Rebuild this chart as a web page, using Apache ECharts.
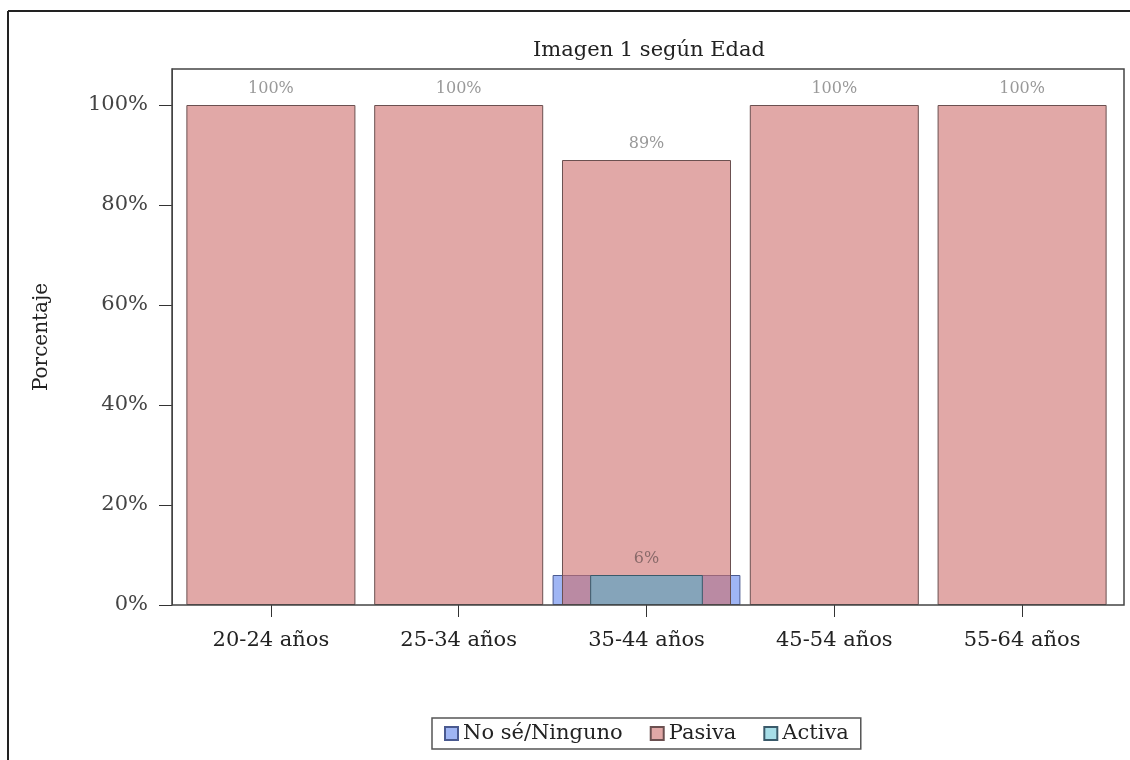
<!DOCTYPE html>
<html><head><meta charset="utf-8">
<script src="https://cdn.jsdelivr.net/npm/echarts@6/dist/echarts.min.js"></script>
<style>html,body{margin:0;padding:0;background:#fff}#c{width:1130px;height:760px}</style>
</head><body><div id="c"></div>
<script>
const categories = ['20-24 años','25-34 años','35-44 años','45-54 años','55-64 años'];
const noSe = ['-','-',6,'-','-'];
const pasiva = [100,100,89,100,100];
const activa = ['-','-',6,'-','-'];
const yTicks = [0,20,40,60,80,100];

const FONT = 'DejaVu Serif';
const chart = echarts.init(document.getElementById('c'), null, {renderer:'canvas'});
const hiddenX = i => ({type:'category', data:categories, gridIndex:0, show:false});
chart.setOption({
  animation:false,
  backgroundColor:'#fff',
  textStyle:{fontFamily:FONT},
  title:{text:'Imagen 1 según Edad', left:644, textAlign:'center', top:35,
    textStyle:{fontFamily:FONT, fontSize:21, fontWeight:'normal', color:'#222'}},
  grid:{left:177, right:14, top:69, bottom:155, containLabel:false},
  legend:{left:432, top:718, orient:'horizontal', icon:'rect', itemWidth:13, itemHeight:13,
    itemGap:27, padding:[5,12], borderColor:'#555', borderWidth:1.5,
    textStyle:{fontFamily:FONT, fontSize:21, color:'#222'},
    data:['No sé/Ninguno','Pasiva','Activa']},
  xAxis:[
    {type:'category', data:categories,
      axisLine:{show:false},
      axisTick:{show:true, alignWithLabel:true, length:12, lineStyle:{color:'#333'}},
      axisLabel:{fontFamily:FONT, fontSize:21, color:'#222', margin:25}},
    hiddenX(1), hiddenX(2)
  ],
  yAxis:{type:'value', min:0, max:107.2, interval:20, offset:5,
    name:'Porcentaje', nameLocation:'middle', nameGap:120,
    nameTextStyle:{fontFamily:FONT, fontSize:20, color:'#222'},
    axisLine:{show:true, lineStyle:{color:'#444'}},
    axisTick:{show:true, length:13, customValues:yTicks, lineStyle:{color:'#333'}},
    axisLabel:{fontFamily:FONT, fontSize:21, color:'#444', margin:24, customValues:yTicks,
      formatter:v=>v+'%'},
    splitLine:{show:false}},
  series:[
    {name:'No sé/Ninguno', type:'bar', xAxisIndex:1, data:noSe, barWidth:'100%',
      itemStyle:{color:'rgba(80,120,235,0.55)', borderColor:'#4a5a90', borderWidth:1},
      label:{show:false}},
    {name:'Pasiva', type:'bar', xAxisIndex:0, data:pasiva, barWidth:'90%',
      itemStyle:{color:'rgba(205,110,108,0.6)', borderColor:'#6b5050', borderWidth:1},
      label:{show:true, position:'top', distance:8, fontFamily:FONT, fontSize:16, color:'#999',
        formatter:p=>Math.round(p.value)+'%'}},
    {name:'Activa', type:'bar', xAxisIndex:2, data:activa, barWidth:'60%',
      itemStyle:{color:'rgba(80,190,210,0.5)', borderColor:'#3a5a6a', borderWidth:1},
      label:{show:true, position:'top', distance:8, fontFamily:FONT, fontSize:16, color:'#8a6a6a',
        formatter:p=>Math.round(p.value)+'%'}}
  ],
  graphic:[
    {type:'rect', silent:true, z:100, shape:{x:172, y:69, width:952, height:536},
      style:{fill:null, stroke:'#444', lineWidth:1.5}},
    {type:'line', silent:true, shape:{x1:8, y1:11, x2:1130, y2:11}, style:{stroke:'#222', lineWidth:2}},
    {type:'line', silent:true, shape:{x1:8, y1:11, x2:8, y2:760}, style:{stroke:'#222', lineWidth:2}}
  ]
});
</script></body></html>
